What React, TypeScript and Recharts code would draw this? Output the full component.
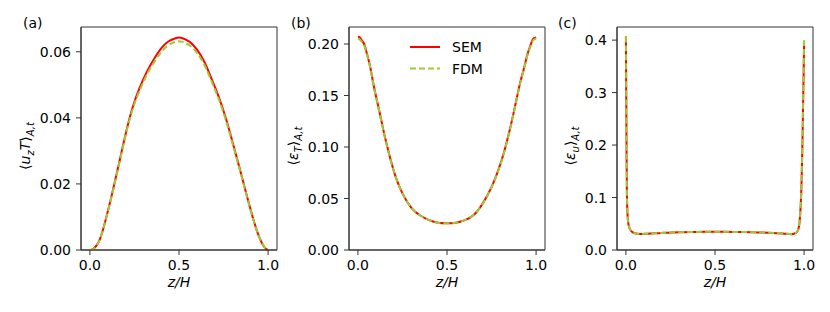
import { LineChart, Line, XAxis, YAxis, ReferenceArea, Legend } from "recharts";

// (a) <u_z T>
const zA = [0, 0.02, 0.05, 0.08, 0.12, 0.16, 0.2, 0.24, 0.28, 0.32, 0.36, 0.4, 0.44, 0.48, 0.5, 0.52, 0.56, 0.6, 0.64, 0.68, 0.72, 0.76, 0.8, 0.84, 0.88, 0.92, 0.95, 0.98, 1.0];
const semA = [0, 0.0004, 0.0025, 0.0074, 0.016, 0.0254, 0.035, 0.0432, 0.0492, 0.054, 0.0578, 0.061, 0.0631, 0.0641, 0.0643, 0.0641, 0.063, 0.0607, 0.0572, 0.0522, 0.0468, 0.0404, 0.0328, 0.0248, 0.0166, 0.0088, 0.004, 0.0008, 0];
const fdmA = [0, 0.0004, 0.0025, 0.0073, 0.0158, 0.0251, 0.0346, 0.0426, 0.0484, 0.0531, 0.0568, 0.0599, 0.062, 0.063, 0.0632, 0.063, 0.0619, 0.0597, 0.0563, 0.0514, 0.0461, 0.0398, 0.0323, 0.0245, 0.0164, 0.0087, 0.004, 0.0008, 0];

// (b) <eps_T>
const zB = [0, 0.01, 0.02, 0.035, 0.05, 0.07, 0.09, 0.12, 0.15, 0.18, 0.21, 0.25, 0.3, 0.35, 0.4, 0.45, 0.5, 0.55, 0.6, 0.65, 0.7, 0.75, 0.79, 0.82, 0.85, 0.88, 0.91, 0.93, 0.95, 0.965, 0.98, 0.99, 1.0];
const semB = [0.207, 0.2065, 0.204, 0.2, 0.191, 0.177, 0.1585, 0.135, 0.111, 0.09, 0.072, 0.055, 0.041, 0.0335, 0.029, 0.0265, 0.026, 0.0265, 0.029, 0.034, 0.045, 0.061, 0.0785, 0.095, 0.115, 0.138, 0.162, 0.175, 0.189, 0.197, 0.204, 0.2058, 0.2065];
const fdmB = [0.205, 0.2045, 0.2025, 0.199, 0.19, 0.1765, 0.158, 0.1345, 0.1105, 0.0895, 0.0718, 0.0549, 0.041, 0.0335, 0.029, 0.0265, 0.026, 0.0265, 0.029, 0.034, 0.0448, 0.0608, 0.078, 0.0945, 0.1145, 0.1375, 0.1612, 0.1742, 0.188, 0.196, 0.2025, 0.2045, 0.2055];

// (c) <eps_u>
const zC = [0, 0.002, 0.004, 0.006, 0.01, 0.015, 0.02, 0.03, 0.05, 0.08, 0.12, 0.2, 0.3, 0.4, 0.5, 0.6, 0.7, 0.8, 0.88, 0.93, 0.95, 0.965, 0.975, 0.985, 0.99, 0.995, 1.0];
const semC = [0.407, 0.29, 0.17, 0.1, 0.062, 0.048, 0.042, 0.036, 0.032, 0.0305, 0.031, 0.0325, 0.034, 0.0345, 0.0347, 0.0345, 0.034, 0.033, 0.0315, 0.03, 0.032, 0.037, 0.055, 0.12, 0.19, 0.29, 0.39];
const fdmC = [0.407, 0.29, 0.17, 0.1, 0.062, 0.048, 0.042, 0.036, 0.032, 0.0305, 0.031, 0.0325, 0.034, 0.0345, 0.0347, 0.0345, 0.034, 0.033, 0.0315, 0.03, 0.032, 0.037, 0.056, 0.122, 0.195, 0.295, 0.4];

const xTicks = [0, 0.5, 1];
const yTicksA = [0, 0.02, 0.04, 0.06];
const yTicksB = [0, 0.05, 0.1, 0.15, 0.2];
const yTicksC = [0, 0.1, 0.2, 0.3, 0.4];
const seriesNames = ["SEM", "FDM"];
const panelLetters = ["(a)", "(b)", "(c)"];

const FONT = "'DejaVu Sans', sans-serif";
const SEM_COLOR = "#ff0000";
const FDM_COLOR = "#9acd32";
const AXIS = "#333";
const FS = 14;

type Part = { t: string; i?: boolean; sub?: boolean };

const labelA: Part[] = [{ t: "⟨" }, { t: "u", i: true }, { t: "z", i: true, sub: true }, { t: "T", i: true }, { t: "⟩" }, { t: "A,t", i: true, sub: true }];
const labelB: Part[] = [{ t: "⟨" }, { t: "ε", i: true }, { t: "T", i: true, sub: true }, { t: "⟩" }, { t: "A,t", i: true, sub: true }];
const labelC: Part[] = [{ t: "⟨" }, { t: "ε", i: true }, { t: "u", i: true, sub: true }, { t: "⟩" }, { t: "A,t", i: true, sub: true }];

function toRows(z: number[], sem: number[], fdm: number[]) {
  return z.map((v, i) => ({ z: v, sem: sem[i], fdm: fdm[i] }));
}

function XTick({ x, y, payload }: any) {
  return (
    <text x={x} y={y} dy={FS * 0.74} textAnchor="middle" fontFamily={FONT} fontSize={FS} fill="#000">
      {Number(payload.value).toFixed(1)}
    </text>
  );
}

function makeYTick(digits: number) {
  return ({ x, y, payload }: any) => (
    <text x={x} y={y} dy={FS * 0.36} textAnchor="end" fontFamily={FONT} fontSize={FS} fill="#000">
      {Number(payload.value).toFixed(digits)}
    </text>
  );
}

function YTitle({ x, y, parts }: { x: number; y: number; parts: Part[] }) {
  let prevSub = false;
  return (
    <text
      x={x}
      y={y}
      transform={`rotate(-90 ${x} ${y})`}
      textAnchor="middle"
      fontFamily={FONT}
      fontSize={FS}
      fill="#000"
    >
      {parts.map((p, k) => {
        const shift = p.sub && !prevSub ? 4 : !p.sub && prevSub ? -4 : 0;
        prevSub = !!p.sub;
        return (
          <tspan key={k} dy={shift} fontStyle={p.i ? "italic" : "normal"} fontSize={p.sub ? 10 : FS}>
            {p.t}
          </tspan>
        );
      })}
    </text>
  );
}

function XTitle({ viewBox }: any) {
  return (
    <text
      x={viewBox.x + viewBox.width / 2}
      y={viewBox.y + 37}
      textAnchor="middle"
      fontFamily={FONT}
      fontSize={FS}
      fontStyle="italic"
      fill="#000"
    >
      z/H
    </text>
  );
}

function LegendBox({ payload }: any) {
  const items = [...(payload ?? [])].sort(
    (a: any, b: any) => seriesNames.indexOf(a.value) - seriesNames.indexOf(b.value)
  );
  return (
    <svg width={80} height={46}>
      {items.map((e: any, i: number) => {
        const cy = 11 + i * 21.6;
        return (
          <g key={e.value}>
            <line
              x1={0}
              x2={30}
              y1={cy}
              y2={cy}
              stroke={e.color}
              strokeWidth={2}
              strokeDasharray={e.payload?.strokeDasharray}
            />
            <text x={42} y={cy + 5} fontFamily={FONT} fontSize={FS} fill="#000">
              {e.value}
            </text>
          </g>
        );
      })}
    </svg>
  );
}

type PanelProps = {
  left: number;
  rows: { z: number; sem: number; fdm: number }[];
  yMax: number;
  yTicks: number[];
  digits: number;
  label: Part[];
  labelX: number;
  curve: "natural" | "monotone";
  legend?: boolean;
};

function Panel({ left, rows, yMax, yTicks, digits, label, labelX, curve, legend }: PanelProps) {
  return (
    <div style={{ position: "absolute", left, top: 0 }}>
      <LineChart
        width={276}
        height={312}
        data={rows}
        margin={{ top: 27, right: 10, bottom: 0, left: 0 }}
        style={{ fontFamily: FONT, fontSize: FS }}
      >
        <XAxis
          dataKey="z"
          type="number"
          domain={[-0.05, 1.05]}
          ticks={xTicks}
          tick={<XTick />}
          tickSize={5}
          tickMargin={5}
          stroke={AXIS}
          height={62}
          label={(p: any) => <XTitle viewBox={p.viewBox} />}
        />
        <YAxis
          type="number"
          domain={[0, yMax]}
          ticks={yTicks}
          tick={makeYTick(digits)}
          tickSize={5}
          tickMargin={5}
          stroke={AXIS}
          width={70}
          label={() => <YTitle x={labelX} y={146} parts={label} />}
        />
        <ReferenceArea x1={-0.05} x2={1.05} y1={0} y2={yMax} fill="none" stroke={AXIS} strokeWidth={1} />
        <Line
          dataKey="sem"
          name={seriesNames[0]}
          type={curve}
          stroke={SEM_COLOR}
          strokeWidth={2}
          dot={false}
          activeDot={false}
          isAnimationActive={false}
        />
        <Line
          dataKey="fdm"
          name={seriesNames[1]}
          type={curve}
          stroke={FDM_COLOR}
          strokeWidth={2}
          strokeDasharray="6 3"
          dot={false}
          activeDot={false}
          isAnimationActive={false}
        />
        {legend && (
          <Legend
            layout="vertical"
            align="center"
            verticalAlign="middle"
            content={(p: any) => <LegendBox payload={p.payload} />}
            wrapperStyle={{ position: "absolute", top: 36, left: 131, width: 80, height: 46 }}
          />
        )}
      </LineChart>
    </div>
  );
}

export default function App() {
  return (
    <div style={{ position: "absolute", left: 0, top: 0, width: 830, height: 312, background: "#fff", fontFamily: FONT }}>
      <Panel left={11} rows={toRows(zA, semA, fdmA)} yMax={0.0675} yTicks={yTicksA} digits={2} label={labelA} labelX={19} curve="natural" />
      <Panel left={279} rows={toRows(zB, semB, fdmB)} yMax={0.2165} yTicks={yTicksB} digits={2} label={labelB} labelX={19} curve="natural" legend />
      <Panel left={547} rows={toRows(zC, semC, fdmC)} yMax={0.425} yTicks={yTicksC} digits={1} label={labelC} labelX={28} curve="monotone" />
      <svg width={830} height={312} style={{ position: "absolute", left: 0, top: 0, pointerEvents: "none" }}>
        {panelLetters.map((t, i) => (
          <text key={t} x={[23, 291, 558][i]} y={28} fontFamily={FONT} fontSize={FS} fill="#000">
            {t}
          </text>
        ))}
      </svg>
    </div>
  );
}
